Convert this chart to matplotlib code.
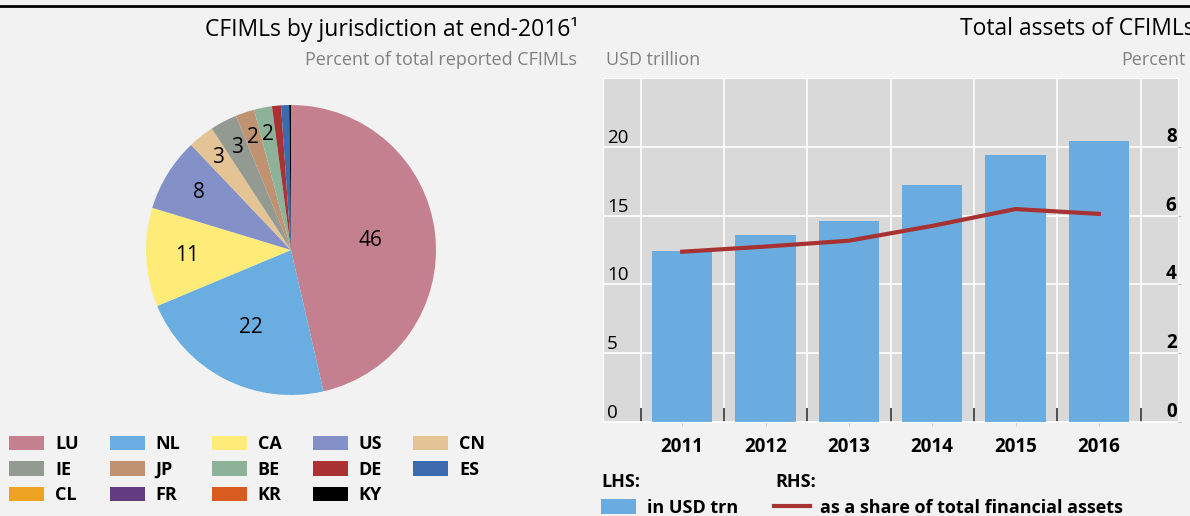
import numpy as np
import matplotlib
matplotlib.use("Agg")
import matplotlib.pyplot as plt
from matplotlib.lines import Line2D
from matplotlib.patches import Patch

plt.rcParams['font.family'] = ['Open Sans', 'DejaVu Sans']

## Pie data: CFIMLs by jurisdiction, percent
countries = ['LU', 'NL', 'CA', 'US', 'CN', 'IE', 'JP', 'BE', 'DE', 'ES', 'CL', 'FR', 'KR', 'KY']
shares = [46.4, 22.3, 11.0, 8.2, 2.9, 3.0, 2.1, 2.0, 1.0, 0.9, 0.0, 0.0, 0.0, 0.2]
share_labels = ['46', '22', '11', '8', '3', '3', '2', '2', '', '', '', '', '', '']
pie_colors = ['#C4808F', '#6AADE0', '#FFEB78', '#8490C8', '#E4C494', '#939A91', '#BF9271',
              '#8CB39A', '#AA3232', '#3B6BAE', '#EDA221', '#633B80', '#D95B20', '#000000']
label_r = [0.55, 0.60, 0.72, 0.75, 0.81, 0.80, 0.82, 0.81]

## Bar/line data: total assets of CFIMLs
years = ['2011', '2012', '2013', '2014', '2015', '2016']
assets_usd_trn = [12.4, 13.6, 14.6, 17.2, 19.4, 20.4]
share_of_fin_assets = [4.95, 5.1, 5.27, 5.7, 6.19, 6.05]

W, H = 1190, 516
fig = plt.figure(figsize=(W / 100, H / 100), dpi=100, facecolor='#F2F2F2')

# top rule
fig.add_artist(Line2D([0, 1], [1 - 5.5 / H, 1 - 5.5 / H], color='black', lw=2, transform=fig.transFigure))

# titles
fig.text(578 / W, 1 - 29 / H, 'CFIMLs by jurisdiction at end-2016\u00b9', ha='right', va='center', fontsize=16.5)
fig.text(577 / W, 1 - 60 / H, 'Percent of total reported CFIMLs', ha='right', va='center', fontsize=13, color='#808080')
fig.text(960 / W, 1 - 29 / H, 'Total assets of CFIMLs', ha='left', va='center', fontsize=16.5)
fig.text(606 / W, 1 - 60 / H, 'USD trillion', ha='left', va='center', fontsize=13, color='#808080')
fig.text(1121 / W, 1 - 60 / H, 'Percent', ha='left', va='center', fontsize=13, color='#808080')

## Pie
ax1 = fig.add_axes([146 / W, 121 / H, 290 / W, 290 / H])
wedges, _ = ax1.pie(shares, colors=pie_colors, startangle=90, counterclock=False,
                    wedgeprops=dict(linewidth=0))
ax1.set_xlim(-1, 1)
ax1.set_ylim(-1, 1)
for w, lab, r in zip(wedges, share_labels, label_r):
    mid = np.deg2rad((w.theta1 + w.theta2) / 2)
    ax1.text(r * np.cos(mid), r * np.sin(mid), lab, ha='center', va='center', fontsize=15)

# legend, row-wise order -> column-major for matplotlib
order = [0, 5, 10, 1, 6, 11, 2, 7, 12, 3, 8, 13, 4, 9]
handles = [Patch(facecolor=pie_colors[i], edgecolor='none') for i in order]
fig.legend(handles, [countries[i] for i in order], ncol=5, loc='upper left',
           bbox_to_anchor=(9 / W, 1 - 435 / H), frameon=False,
           handlelength=1.95, handleheight=0.85, handletextpad=0.6, columnspacing=1.72,
           labelspacing=0.42, borderpad=0, borderaxespad=0, prop=dict(weight='bold', size=13))

## Bars + line
ax2 = fig.add_axes([603 / W, 94 / H, 575 / W, 344 / H])
ax2.set_facecolor('#D9D9D9')
x = np.arange(len(years))
ax2.bar(x, assets_usd_trn, width=0.725, color='#6AACE0', zorder=2)
ax2.set_xlim(-0.95, 5.95)
ax2.set_ylim(0, 25)
ax2.set_yticks([0, 5, 10, 15, 20])
ax2.set_xticks(np.arange(-0.5, 6, 1))
ax2.set_xticklabels([])
ax2.set_xticks(x, minor=True)
ax2.set_xticklabels(years, minor=True, fontsize=13.5, fontweight='bold')
ax2.tick_params(axis='x', which='major', direction='in', length=10, width=1.2, color='#333333')
ax2.tick_params(axis='x', which='minor', direction='out', length=3, color='#C8C8C8', pad=8)
ax2.tick_params(axis='y', which='major', length=0, pad=-3, labelsize=13.5)
for lab in ax2.get_yticklabels():
    lab.set_ha('left')
    lab.set_va('bottom')
ax2.grid(True, which='major', color='white', lw=1.2, zorder=1)
ax2.set_axisbelow(True)
for s in ax2.spines.values():
    s.set_color('white')

ax3 = ax2.twinx()
ax3.plot(x, share_of_fin_assets, color='#A83232', lw=3, zorder=3)
ax3.set_ylim(0, 10)
ax3.set_yticks([0, 2, 4, 6, 8])
ax3.tick_params(axis='y', length=2, color='#BBBBBB', pad=-3, labelsize=13.5)
for lab in ax3.get_yticklabels():
    lab.set_ha('right')
    lab.set_va('bottom')
    lab.set_fontweight('bold')
for s in ax3.spines.values():
    s.set_visible(False)

# right legend
fig.text(601 / W, 1 - 482 / H, 'LHS:', ha='left', va='center', fontsize=13, fontweight='bold')
fig.text(775 / W, 1 - 482 / H, 'RHS:', ha='left', va='center', fontsize=13, fontweight='bold')
fig.legend([Patch(facecolor='#6AACE0'), Line2D([], [], color='#A83232', lw=3)],
           ['in USD trn', 'as a share of total financial assets'], ncol=2, loc='center left',
           bbox_to_anchor=(601 / W, 8 / H), frameon=False, handlelength=1.95, handleheight=0.9,
           handletextpad=0.6, columnspacing=2.0, borderpad=0, borderaxespad=0,
           prop=dict(weight='bold', size=13))

fig.savefig('out.png', dpi=100, facecolor=fig.get_facecolor())
